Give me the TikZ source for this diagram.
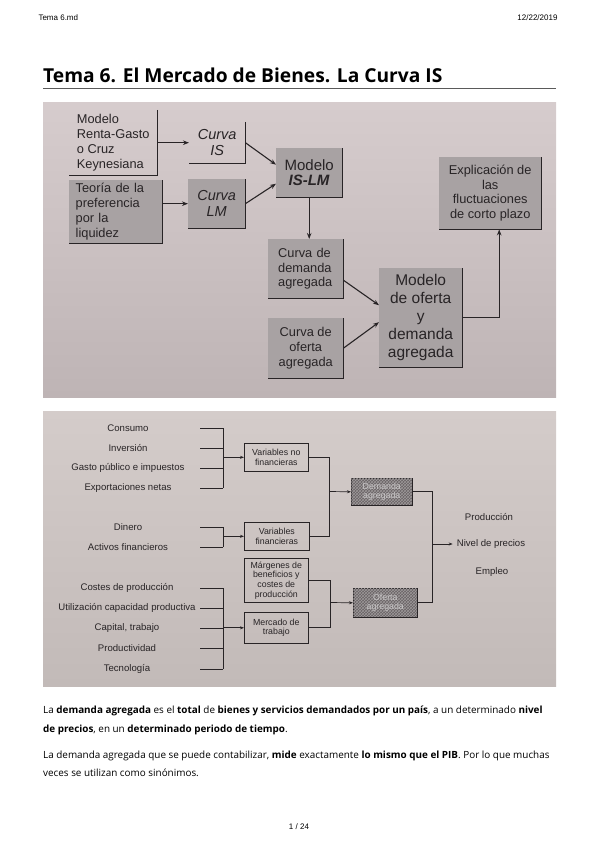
\documentclass[tikz,border=0pt]{standalone}
\usepackage{fontspec}
\setmainfont{Open Sans}
\newfontfamily\arialfont{Liberation Sans}
\usetikzlibrary{arrows.meta,positioning,patterns}

\definecolor{ink}{RGB}{40,36,38}
\definecolor{phototop}{RGB}{214,204,205}
\definecolor{photobot}{RGB}{190,180,181}
\definecolor{sheettop}{RGB}{212,204,202}
\definecolor{sheetbot}{RGB}{194,186,184}
\definecolor{boxgrey}{RGB}{168,162,163}
\definecolor{hatchgrey}{RGB}{104,98,100}
\definecolor{rulegrey}{RGB}{90,90,90}

\begin{document}
\begin{tikzpicture}[
x=1pt, y=-1pt,
big/.style={font=\arialfont\fontsize{12.8}{14.8}\selectfont, text=ink, inner sep=0pt, anchor=north west},
greybox/.style={big, fill=boxgrey},
shadowline/.style={draw=ink, line width=1.4pt},
thinshadow/.style={draw=ink, line width=1pt},
arrowA/.style={-{Stealth[length=6pt,width=4.5pt]}, draw=ink, line width=1.1pt},
small/.style={font=\arialfont\fontsize{9.6}{11}\selectfont, text=ink, inner sep=0pt},
smallbox/.style={font=\arialfont\fontsize{8.8}{9.6}\selectfont, text=ink, draw=ink, line width=0.6pt, align=center, inner sep=0pt, anchor=north west},
hatchbox/.style={smallbox, fill=hatchgrey, text=white!65!hatchgrey, postaction={pattern=crosshatch, pattern color=white!35!hatchgrey}},
bline/.style={draw=ink, line width=0.7pt},
arrowB/.style={-{Stealth[length=4pt,width=3pt]}, draw=ink, line width=0.7pt},
body/.style={font=\fontsize{9.9}{12}\selectfont, inner sep=0pt, anchor=base west}
]
\useasboundingbox (0,0) rectangle (599,848);

% page header
\node[anchor=west, font=\arialfont\fontsize{8}{9}\selectfont] (fname) at (35,18) {Tema 6.md};
\node[anchor=east, font=\arialfont\fontsize{8}{9}\selectfont] (fdate) at (561,18) {12/22/2019};
\node[anchor=base west, font=\bfseries\fontsize{19.2}{22}\selectfont, inner sep=0pt] (title) at (43,83) {Tema 6. El Mercado de Bienes. La Curva IS};
\draw[rulegrey, line width=0.8pt] (43,88) -- (556,88);

% first photo
\shade[top color=phototop, bottom color=photobot] (43,103) rectangle (556,397);

\node[big, minimum width=88pt, minimum height=65pt, align=left] (renta) at (69,110) {Modelo\\Renta-Gasto\\o Cruz\\Keynesiana};
\node[greybox, text width=80pt, inner xsep=6.5pt, minimum height=63pt, align=left] (teoria) at (69,180) {Teoría de la\\preferencia\\por la\\liquidez};
\node[big, font=\arialfont\itshape\fontsize{14.5}{16}\selectfont, minimum width=56pt, minimum height=41pt, align=center] (curvais) at (189,122) {Curva\\IS};
\node[greybox, font=\arialfont\itshape\fontsize{14.5}{16}\selectfont, minimum width=57pt, minimum height=49pt, align=center] (curvalm) at (188,179) {Curva\\LM};
\node[greybox, font=\arialfont\fontsize{15}{15.5}\selectfont, minimum width=66pt, minimum height=49pt, align=center] (islm) at (276,148) {Modelo\\\textbf{\textit{IS-LM}}};
\node[greybox, text width=55pt, inner xsep=10pt, minimum height=59pt, align=left] (cdemanda) at (268,239) {Curva de\\demanda\\agregada};
\node[greybox, minimum width=75pt, minimum height=60pt, align=center] (coferta) at (268,318) {Curva de\\oferta\\agregada};
\node[greybox, font=\arialfont\fontsize{15.5}{18}\selectfont, minimum width=83pt, minimum height=99pt, align=center] (oyd) at (379,268) {Modelo\\de oferta\\y\\demanda\\agregada};
\node[greybox, minimum width=102pt, minimum height=72pt, align=center] (expl) at (439,157) {Explicación de\\las\\fluctuaciones\\de corto plazo};

\foreach \b in {renta,teoria,curvais,curvalm,islm,cdemanda,coferta,oyd,expl}
  \draw[shadowline] (\b.north east) |- (\b.south west);

\draw[arrowA] (renta.east) -- (renta.east -| curvais.west);
\draw[arrowA] (teoria.east |- curvalm) -- (curvalm.west);
\draw[arrowA] (curvais.east) -- ([yshift=8pt]islm.west);
\draw[arrowA] (curvalm.east) -- ([yshift=-11pt]islm.west);
\draw[arrowA] (islm.south) -- (islm.south |- cdemanda.north);
\draw[arrowA] ([yshift=-11.5pt]cdemanda.east) -- ([yshift=12.5pt]oyd.west);
\draw[arrowA] (coferta.east) -- ([yshift=-4.5pt]oyd.west);
\draw[arrowA] (oyd.east) -| ([xshift=9pt]expl.south);

% second photo
\shade[top color=sheettop, bottom color=sheetbot] (43,411) rectangle (556,686);
\coordinate (brkL) at (200,0);
\coordinate (brkR) at (223,0);

\node[small] (cons) at (128,428) {Consumo};
\node[small] (inv) at (128,448) {Inversión};
\node[small] (gasto) at (128,468) {Gasto público e impuestos};
\node[small] (export) at (128,488) {Exportaciones netas};
\node[small] (dinero) at (128,527) {Dinero};
\node[small] (activos) at (128,547) {Activos financieros};
\node[small] (costes) at (127,588) {Costes de producción};
\node[small] (util) at (127,608) {Utilización capacidad productiva};
\node[small] (capital) at (127,628) {Capital, trabajo};
\node[small] (produc) at (127,648) {Productividad};
\node[small] (tecno) at (127,669) {Tecnología};

\node[smallbox, minimum width=64pt, minimum height=28pt] (varnofin) at (244,443) {Variables no\\financieras};
\node[smallbox, minimum width=65pt, minimum height=28pt] (varfin) at (244,522) {Variables\\financieras};
\node[smallbox, minimum width=64pt, minimum height=44pt] (margen) at (244,558) {Márgenes de\\beneficios y\\costes de\\producción};
\node[smallbox, minimum width=64pt, minimum height=31pt] (mercado) at (244,612) {Mercado de\\trabajo};
\node[hatchbox, minimum width=61pt, minimum height=27pt] (demagr) at (351,478) {Demanda\\agregada};
\node[hatchbox, minimum width=64pt, minimum height=29pt] (ofeagr) at (353,588) {Oferta\\agregada};

\foreach \b in {varnofin,varfin,margen,mercado,demagr,ofeagr}
  \draw[thinshadow] (\b.north east) |- (\b.south west);

\node[small] (prod) at (489,517) {Producción};
\node[small] (precios) at (491,544) {Nivel de precios};
\node[small] (empleo) at (492,572) {Empleo};

\foreach \l in {cons,inv,gasto,export,dinero,activos,costes,util,capital,produc,tecno}
  \draw[bline] (brkL |- \l) -- (brkR |- \l);
\draw[bline] (brkR |- cons) -- (brkR |- export);
\draw[bline] (brkR |- dinero) -- (brkR |- activos);
\draw[bline] (brkR |- costes) -- (brkR |- tecno);
\draw[arrowB] (brkR |- varnofin) -- (varnofin.west);
\draw[arrowB] (brkR |- varfin) -- (varfin.west);
\draw[arrowB] (brkR |- mercado) -- (mercado.west);

\coordinate (jdem) at (329,491.5);
\coordinate (jofe) at (330,602.5);
\coordinate (jout) at (432,544);
\draw[bline] (varnofin.east) -| (jdem);
\draw[bline] (varfin.east) -| (jdem);
\draw[arrowB] (jdem) -- (demagr.west);
\draw[bline] (margen.east) -| (jofe);
\draw[bline] (mercado.east) -| (jofe);
\draw[arrowB] (jofe) -- (ofeagr.west);
\draw[bline] (demagr.east) -| (jout);
\draw[bline] (ofeagr.east) -| (jout);
\draw[arrowB, shorten >=4pt] (jout) -- (precios.west);

% text below
\node[body] (p1a) at (43,713.5) {La \textbf{demanda agregada} es el \textbf{total} de \textbf{bienes y servicios demandados por un país}, a un determinado \textbf{nivel}};
\node[body] (p1b) at (43,732.5) {\textbf{de precios}, en un \textbf{determinado periodo de tiempo}.};
\node[body] (p2a) at (43,758.5) {La demanda agregada que se puede contabilizar, \textbf{mide} exactamente \textbf{lo mismo que el PIB}. Por lo que muchas};
\node[body] (p2b) at (43,776.5) {veces se utilizan como sinónimos.};
\node[font=\arialfont\fontsize{8}{9}\selectfont] (pagenum) at (299,827) {1 / 24};
\end{tikzpicture}
\end{document}
